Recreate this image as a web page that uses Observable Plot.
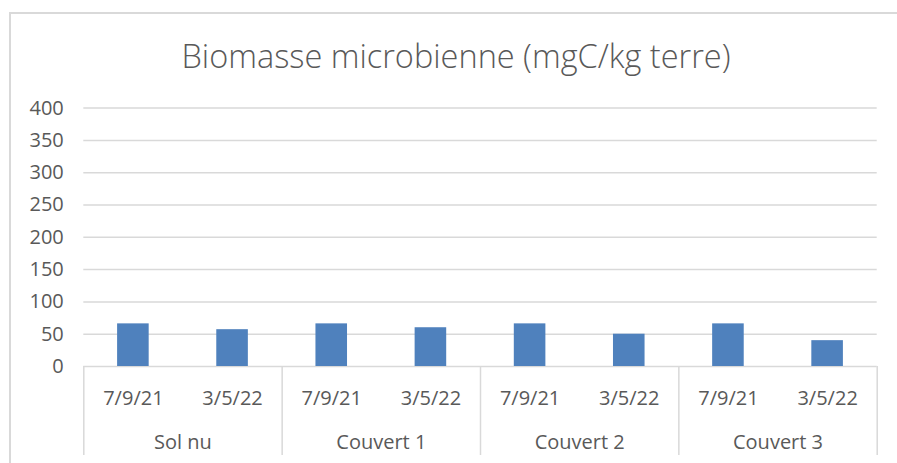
<!DOCTYPE html>
<html>
<head>
<meta charset="utf-8">
<script src="https://cdn.jsdelivr.net/npm/d3@7"></script>
<script src="https://cdn.jsdelivr.net/npm/@observablehq/plot@0.6"></script>
<style>
  html, body { margin: 0; padding: 0; background: #fff; }
  #frame { position: absolute; left: 9px; top: 12px; width: 900px; height: 460px;
           border-left: 2px solid #d9d9d9; border-top: 2px solid #d9d9d9; }
  #title { position: absolute; left: 0; width: 912px; top: 40px; text-align: center; line-height: 1;
           font-family: "Open Sans", sans-serif; font-weight: 300; font-size: 32.5px; color: #595959; white-space: nowrap; }
  #chart { position: absolute; left: 0; top: 0; }
</style>
</head>
<body>
<div id="frame"></div>
<div id="title">Biomasse microbienne (mgC/kg terre)</div>
<div id="chart"></div>
<script>
const groups = ["Sol nu", "Couvert 1", "Couvert 2", "Couvert 3"];
const dates = ["7/9/21", "3/5/22"];
const values = [66, 57, 66, 60, 66, 50, 66, 40];
const yTicks = [0, 50, 100, 150, 200, 250, 300, 350, 400];

const rows = [];
groups.forEach((g, gi) => dates.forEach((d, di) => {
  const i = gi * dates.length + di;
  rows.push({group: g, date: d, slot: i, value: values[i]});
}));
const n = rows.length;

const font = {fontFamily: "'Open Sans', sans-serif", fontSize: "20px", color: "#595959"};

const chart = Plot.plot({
  width: 897,
  height: 463,
  marginTop: 107.6,
  marginBottom: 97,
  marginLeft: 83.3,
  marginRight: 20.3,
  style: {...font, background: "transparent", overflow: "visible"},
  x: {type: "linear", domain: [0, n]},
  y: {domain: [0, 400]},
  marks: [
    Plot.ruleY(yTicks, {stroke: "#d9d9d9", strokeWidth: 1.5}),
    Plot.rectY(rows, {x1: d => d.slot, x2: d => d.slot + 1, y: "value",
      fill: "#4f81bd", insetLeft: 33.8, insetRight: 33.8}),
    Plot.axisY({ticks: yTicks, tickSize: 0, tickPadding: 20, label: null,
      fill: "#595959", fontSize: 20}),
    Plot.axisX({ticks: rows.map(r => r.slot + 0.5), tickSize: 0, tickPadding: 24,
      tickFormat: t => rows[Math.floor(t)].date, label: null, fill: "#595959", fontSize: 20}),
    Plot.axisX({ticks: groups.map((g, gi) => gi * dates.length + dates.length / 2), tickSize: 0, tickPadding: 68,
      tickFormat: t => groups[Math.floor(t / dates.length)], label: null, fill: "#595959", fontSize: 20}),
    Plot.axisX({ticks: d3.range(0, n + 1, dates.length), tickSize: 89, tickFormat: () => "",
      stroke: "#d9d9d9", strokeWidth: 1.5, strokeOpacity: 1, label: null})
  ]
});
document.getElementById("chart").appendChild(chart);
</script>
</body>
</html>
